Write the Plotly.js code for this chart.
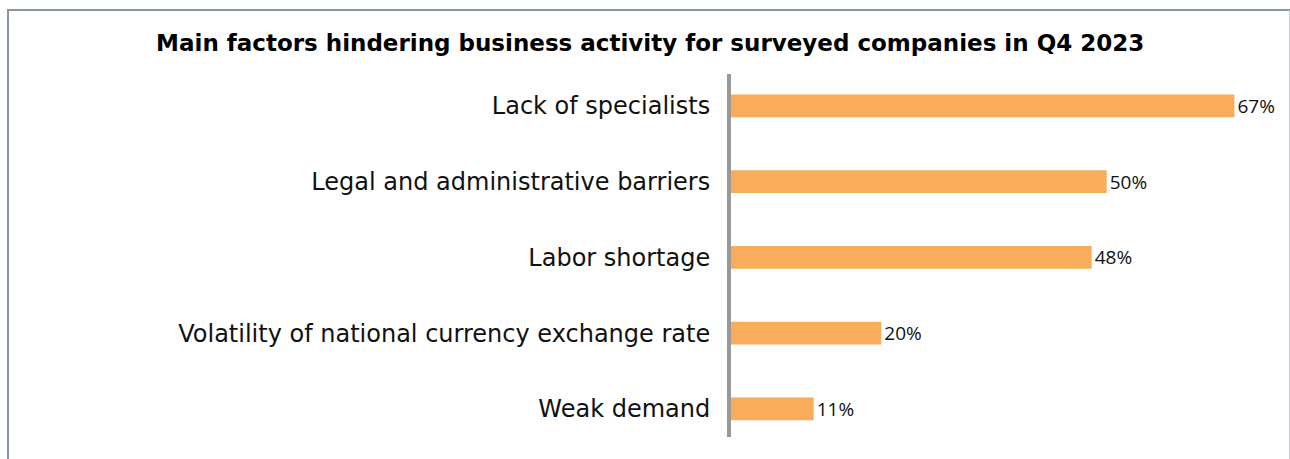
<!DOCTYPE html>
<html>
<head>
<meta charset="utf-8">
<script src="https://cdn.plot.ly/plotly-3.0.1.min.js"></script>
<style>
  html, body { margin: 0; padding: 0; background: #fff; }
  #wrap { position: relative; width: 1290px; height: 459px; overflow: hidden; }
  #chart { position: absolute; left: 0; top: 0; width: 1290px; height: 459px; }
  #frame { position: absolute; left: 7px; top: 9px; width: 1280px; height: 470px;
           border-left: 2px solid #8a95a2; border-top: 2px solid #8a95a2;
           border-right: 1px solid #c8cdd2; pointer-events: none; }
</style>
</head>
<body>
<div id="wrap">
  <div id="chart"></div>
  <div id="frame"></div>
</div>
<script>
const titleText = "Main factors hindering business activity for surveyed companies in Q4 2023";
const categories = [
  "Lack of specialists",
  "Legal and administrative barriers",
  "Labor shortage",
  "Volatility of national currency exchange rate",
  "Weak demand"
];
const values = [67, 50, 48, 20, 11];
const valueLabels = ["67%", "50%", "48%", "20%", "11%"];

const trace = {
  type: "bar",
  orientation: "h",
  y: categories,
  x: values,
  text: valueLabels,
  textposition: "outside",
  constraintext: "none",
  cliponaxis: false,
  textfont: { family: "Open Sans, Noto Sans, sans-serif", size: 19, color: "#111" },
  marker: { color: "#F8AC5C" },
  width: 0.3,
  hoverinfo: "none"
};

const layout = {
  width: 1290,
  height: 459,
  paper_bgcolor: "#fff",
  plot_bgcolor: "#fff",
  margin: { l: 731, r: 18, t: 74, b: 22 },
  showlegend: false,
  title: {
    text: "<b>" + titleText + "</b>",
    font: { family: "DejaVu Sans", size: 23, color: "#000" },
    x: 0.504,
    xref: "container",
    xanchor: "center",
    y: 1,
    yref: "container",
    yanchor: "top",
    pad: { t: 35 }
  },
  xaxis: {
    range: [0, 72],
    visible: false,
    showgrid: false,
    zeroline: false,
    fixedrange: true
  },
  yaxis: {
    type: "category",
    range: [4.37, -0.42],
    showline: true,
    linecolor: "#999999",
    linewidth: 4,
    showgrid: false,
    zeroline: false,
    ticks: "outside",
    ticklen: 12,
    tickcolor: "rgba(0,0,0,0)",
    tickfont: { family: "DejaVu Sans", size: 24, color: "#111" },
    fixedrange: true
  }
};

Plotly.newPlot("chart", [trace], layout, { displayModeBar: false, staticPlot: true });
</script>
</body>
</html>
